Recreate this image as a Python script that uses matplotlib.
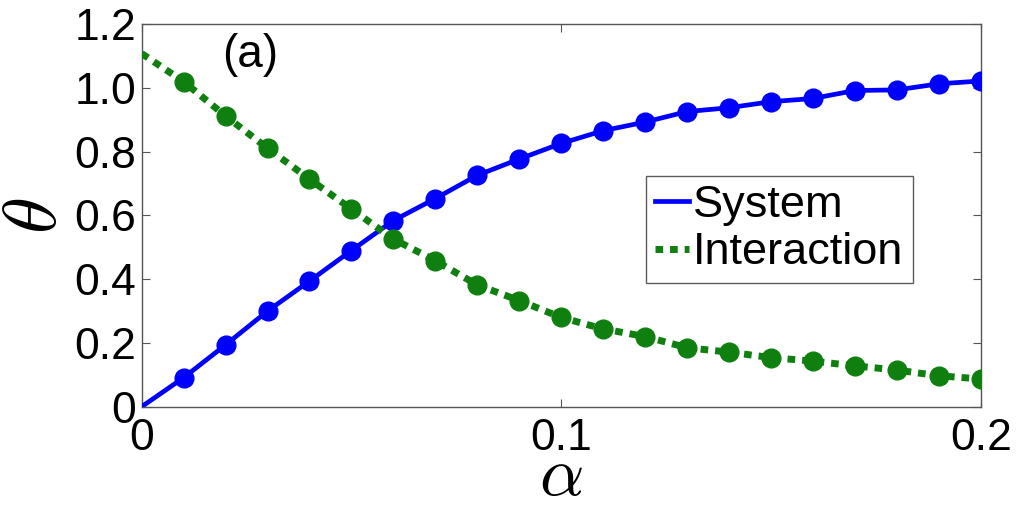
import matplotlib
matplotlib.use("Agg")
import matplotlib.pyplot as plt

plt.rcParams['font.family'] = ['Liberation Sans', 'DejaVu Sans']
plt.rcParams['mathtext.fontset'] = 'cm'

alpha = [0.00, 0.01, 0.02, 0.03, 0.04, 0.05, 0.06, 0.07, 0.08, 0.09, 0.10,
         0.11, 0.12, 0.13, 0.14, 0.15, 0.16, 0.17, 0.18, 0.19, 0.20]
system = [0.0, 0.091, 0.194, 0.300, 0.394, 0.490, 0.584, 0.653, 0.726, 0.777, 0.826,
          0.866, 0.893, 0.926, 0.938, 0.957, 0.967, 0.992, 0.994, 1.013, 1.022]
interaction = [1.108, 1.020, 0.912, 0.811, 0.714, 0.620, 0.526, 0.458, 0.382, 0.333, 0.280,
               0.244, 0.220, 0.185, 0.171, 0.154, 0.143, 0.128, 0.115, 0.097, 0.087]
xticks = [0, 0.1, 0.2]
xticklabels = ['0', '0.1', '0.2']
yticks = [0, 0.2, 0.4, 0.6, 0.8, 1.0, 1.2]
yticklabels = ['0', '0.2', '0.4', '0.6', '0.8', '1.0', '1.2']

blue = '#0000ff'
green = '#0f800f'

fig = plt.figure(figsize=(10.28, 5.05), dpi=100)
ax = fig.add_axes([0.1378, 0.1947, 0.954 - 0.1378, 0.952 - 0.1947])

ax.plot(alpha, system, '-', color=blue, lw=3.4, label='System', zorder=3)
ax.plot(alpha[1:], system[1:], 'o', color=blue, ms=13.5, zorder=4)
ax.plot(alpha, interaction, color=green, lw=5, dashes=(1.1, 1.0),
        label='Interaction', zorder=3)
ax.plot(alpha[1:], interaction[1:], 'o', color=green, ms=13.5, zorder=4)

ax.set_xlim(0, 0.2)
ax.set_ylim(0, 1.2)
ax.set_xticks(xticks)
ax.set_xticklabels(xticklabels)
ax.set_yticks(yticks)
ax.set_yticklabels(yticklabels)
ax.tick_params(direction='in', length=6, width=0.8, color='#555555',
               labelsize=32, top=True, right=True)
ax.tick_params(axis='x', pad=8)
ax.tick_params(axis='y', pad=4)
for s in ax.spines.values():
    s.set_color('#555555')
    s.set_linewidth(1.0)

ax.set_xlabel(r'$\alpha$', fontsize=50)
ax.xaxis.label.set_va('baseline')
ax.xaxis.set_label_coords(0.5, -0.23)
ax.set_ylabel(r'$\theta$', fontsize=54)
ax.yaxis.label.set_va('center')
ax.yaxis.set_label_coords(-0.125, 0.5)

ax.text(0.0259, 1.104, '(a)', fontsize=33, ha='center', va='center')

leg = ax.legend(loc='upper left', bbox_to_anchor=(0.601, 0.604),
                fontsize=32.5, frameon=True, fancybox=False, handlelength=0.75,
                handletextpad=0.1, borderpad=0.2, labelspacing=0.15,
                borderaxespad=0)
leg.get_frame().set_edgecolor('#333333')
leg.get_frame().set_linewidth(1.0)

fig.savefig('out.png', dpi=100)
